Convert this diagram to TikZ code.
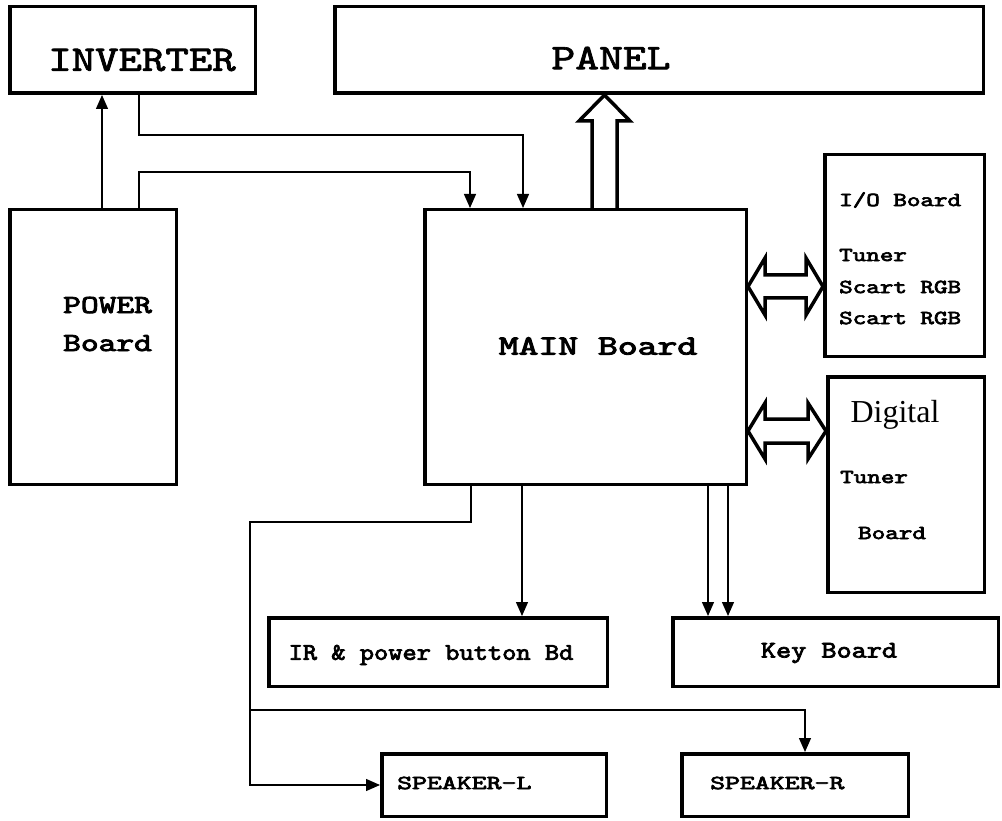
\documentclass[tikz,border=0pt]{standalone}
\usepackage{fontspec}
\setmainfont{Liberation Serif}
\newfontfamily\courb{lmmono10-regular.otf}[FakeBold=3]
\newfontfamily\courm{lmmono10-regular.otf}[FakeBold=1.8]
\usetikzlibrary{arrows.meta}
\newcommand\hs[2]{\scalebox{#1}[1]{#2}}
\begin{document}
\begin{tikzpicture}[x=1pt,y=-1pt,
  box/.style={draw, line width=3.5pt, inner sep=0pt},
  conn/.style={line width=1.3pt, -{Triangle[length=14pt,width=12pt]}},
  hollow/.style={draw, line width=3.5pt, line join=miter, fill=white},
  big/.style={inner sep=0pt, font=\courm\fontsize{36}{40}\selectfont},
  lbl/.style={inner sep=0pt, font=\courb\fontsize{#1}{#1}\selectfont},
  lbl/.default=20]
\useasboundingbox (0,0) rectangle (1002,821);
% boxes
\node[box, minimum width=245.5, minimum height=86.5] (inv) at (132.5,50) {};
\node[box, minimum width=648.5, minimum height=86.5] (panel) at (659,50) {};
\node[box, minimum width=166.5, minimum height=274.5] (power) at (93,347) {};
\node[box, minimum width=321.5, minimum height=274.5] (main) at (585.5,347) {};
\node[box, minimum width=159.5, minimum height=201.5] (io) at (904.5,255.5) {};
\node[box, minimum width=156.5, minimum height=215.5] (dig) at (906,484.5) {};
\node[box, minimum width=338.5, minimum height=68.5] (ir) at (438,652) {};
\node[box, minimum width=325.5, minimum height=68.5] (key) at (835.5,652) {};
\node[box, minimum width=224.5, minimum height=62.5] (spl) at (494,785) {};
\node[box, minimum width=226.5, minimum height=62.5] (spr) at (795,785) {};
% texts
\node[big] (tinv) at (142,60) {\hs{1.24}{INVERTER}};
\node[big] (tpanel) at (611,58) {\hs{1.26}{PANEL}};
\node[lbl=26, align=left, anchor=west] (tpower) at (63,324) {\hs{1.3}{POWER}\\[12pt]\hs{1.3}{Board}};
\node[lbl=28] (tmain) at (598,346) {\hs{1.35}{MAIN Board}};
\node[lbl, anchor=west] (tio1) at (839,200) {\hs{1.29}{I/O Board}};
\node[lbl, anchor=west] (tio2) at (839,255) {\hs{1.29}{Tuner}};
\node[lbl, anchor=west] (tio3) at (839,287) {\hs{1.29}{Scart RGB}};
\node[lbl, anchor=west] (tio4) at (839,318) {\hs{1.29}{Scart RGB}};
\node[inner sep=0pt, font=\fontsize{32}{34}\selectfont] (tdig1) at (895,415) {Digital};
\node[lbl, anchor=west] (tdig2) at (840,477) {\hs{1.29}{Tuner}};
\node[lbl, anchor=west] (tdig3) at (858,533) {\hs{1.29}{Board}};
\node[lbl=24] (tir) at (431,655) {\hs{1.13}{IR \& power button Bd}};
\node[lbl=24] (tkey) at (829,653) {\hs{1.2}{Key Board}};
\node[lbl, anchor=west] (tspl) at (397,783) {\hs{1.42}{SPEAKER-L}};
\node[lbl, anchor=west] (tspr) at (710,783) {\hs{1.42}{SPEAKER-R}};
% connectors
\draw[conn] (power.north -| 102,0) -- (inv.south -| 102,0);
\draw[conn] (inv.south -| 139,0) -- (139,135) -- (523,135) -- (main.north -| 523,0);
\draw[conn] (power.north -| 139,0) -- (139,172) -- (470,172) -- (main.north -| 470,0);
\coordinate (j) at (250,710);
\draw[conn] (main.south -| 471,0) -- (471,522) -- (250,522) |- (spl.west);
\draw[conn] (j) -- (805,710) -- (spr.north -| 805,0);
\draw[conn] (main.south -| 522,0) -- (ir.north -| 522,0);
\draw[conn] (main.south -| 708,0) -- (key.north -| 708,0);
\draw[conn] (main.south -| 728,0) -- (key.north -| 728,0);
% hollow arrows
\draw[hollow] (main.north -| 592,0) -- (592,121) -- (579,121) -- (panel.south -| 604.5,0) -- (630,121) -- (617,121) -- (main.north -| 617,0);
\draw[hollow] (main.east |- 0,286.5) -- (765,258) -- (765,275) -- (806,275) -- (806,258) -- (io.west |- 0,286.5) -- (806,315) -- (806,298) -- (765,298) -- (765,315) -- cycle;
\draw[hollow] (main.east |- 0,431) -- (765,403) -- (765,419) -- (808,419) -- (808,403) -- (dig.west |- 0,431) -- (808,459) -- (808,443) -- (765,443) -- (765,459) -- cycle;
\end{tikzpicture}
\end{document}
